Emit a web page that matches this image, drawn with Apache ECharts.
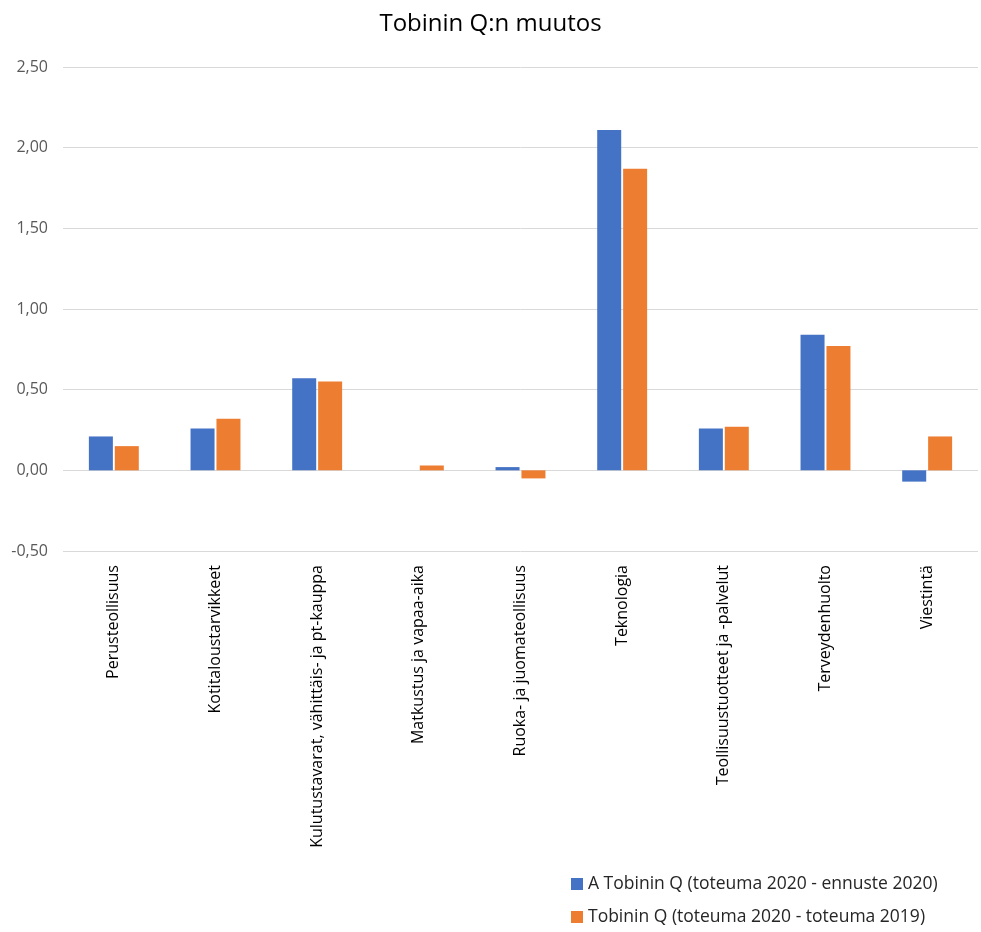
<!DOCTYPE html>
<html>
<head>
<meta charset="utf-8">
<script src="https://cdn.jsdelivr.net/npm/echarts@6/dist/echarts.min.js"></script>
<style>
  html, body { margin: 0; padding: 0; background: #fff; }
  #chart { width: 981px; height: 932px; }
</style>
</head>
<body>
<div id="chart"></div>
<script>
const categories = [
  "Perusteollisuus",
  "Kotitaloustarvikkeet",
  "Kulutustavarat, vähittäis- ja pt-kauppa",
  "Matkustus ja vapaa-aika",
  "Ruoka- ja juomateollisuus",
  "Teknologia",
  "Teollisuustuotteet ja -palvelut",
  "Terveydenhuolto",
  "Viestintä"
];
const seriesNames = [
  "A Tobinin Q (toteuma 2020 - ennuste 2020)",
  "Tobinin Q (toteuma 2020 - toteuma 2019)"
];
const forecastDiff = [0.21, 0.26, 0.57, 0.00, 0.02, 2.11, 0.26, 0.84, -0.07];
const yearDiff = [0.15, 0.32, 0.55, 0.03, -0.05, 1.87, 0.27, 0.77, 0.21];

const font = "'Open Sans', sans-serif";
const chart = echarts.init(document.getElementById("chart"), null, { renderer: "canvas" });

chart.setOption({
  animation: false,
  textStyle: { fontFamily: font },
  title: {
    text: "Tobinin Q:n muutos",
    left: "center",
    top: 7,
    textStyle: { fontFamily: font, fontSize: 24, fontWeight: "normal", color: "#000" }
  },
  legend: {
    orient: "vertical",
    left: 571,
    top: 875,
    height: 60,
    padding: 0,
    itemWidth: 12,
    itemHeight: 12,
    itemGap: 15,
    icon: "rect",
    textStyle: { fontFamily: font, fontSize: 17.5, color: "#262626" },
    data: seriesNames
  },
  grid: { left: 63, right: 3, top: 67, bottom: 381, containLabel: false },
  xAxis: {
    type: "category",
    data: categories,
    axisLine: { show: false },
    axisTick: { show: false },
    axisLabel: {
      rotate: 90,
      interval: 0,
      margin: 14,
      fontFamily: font,
      fontSize: 16,
      color: "#000"
    }
  },
  yAxis: {
    type: "value",
    min: -0.5,
    max: 2.5,
    interval: 0.5,
    axisLine: { show: false },
    axisTick: { show: false },
    axisLabel: {
      margin: 15,
      fontFamily: font,
      fontSize: 16,
      color: "#595959",
      formatter: (v) => v.toFixed(2).replace(".", ",")
    },
    splitLine: { lineStyle: { color: "#d9d9d9", width: 1 } }
  },
  series: [
    {
      name: seriesNames[0],
      type: "bar",
      data: forecastDiff,
      barWidth: 24,
      barGap: "8%",
      itemStyle: { color: "#4472C4" }
    },
    {
      name: seriesNames[1],
      type: "bar",
      data: yearDiff,
      barWidth: 24,
      itemStyle: { color: "#ED7D31" }
    }
  ]
});
</script>
</body>
</html>
